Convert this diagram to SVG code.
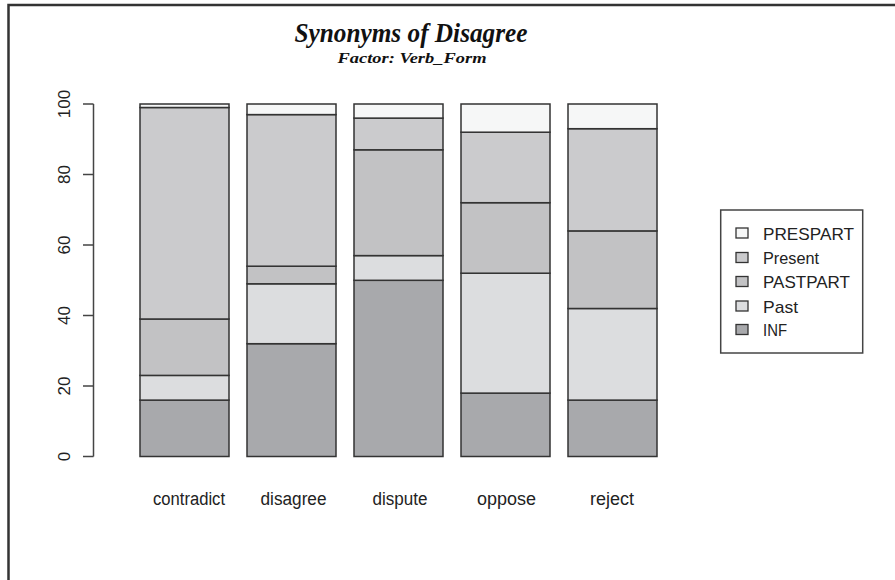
<svg xmlns="http://www.w3.org/2000/svg" width="895" height="580" viewBox="0 0 895 580">
<style>
.bar rect{stroke:#333;stroke-width:1.5}
.inf{fill:#a8a9ac}.past{fill:#dcdddf}.pastpart{fill:#c2c2c4}.present{fill:#cbcbcd}.prespart{fill:#f6f7f7}
.lbl{font-family:"Liberation Sans",Arial,sans-serif;font-size:17px;fill:#222}
.xl{font-size:18px}
.ax{stroke:#444;stroke-width:1.5;fill:none}
.leg rect.sw{stroke:#333;stroke-width:1.3}
</style>
<rect x="0" y="0" width="895" height="580" fill="#fff"/>
<path d="M8.5,580 V5 H895" fill="none" stroke="#333" stroke-width="2.5"/>
<g id="title">
<text x="411" y="42" text-anchor="middle" font-family="'Liberation Serif','Times New Roman',serif" font-weight="bold" font-style="italic" font-size="28" fill="#111" textLength="233" lengthAdjust="spacingAndGlyphs">Synonyms of Disagree</text>
<text x="412" y="63" text-anchor="middle" font-family="'Liberation Serif','Times New Roman',serif" font-weight="bold" font-style="italic" font-size="15.5" fill="#111" textLength="149" lengthAdjust="spacingAndGlyphs">Factor: Verb_Form</text>
</g>
<g id="yaxis">
<path class="ax" d="M93.5,104 V456.5 M83,104 H93.5 M83,174.5 H93.5 M83,245 H93.5 M83,315.5 H93.5 M83,386 H93.5 M83,456.5 H93.5"/>
<text class="lbl" transform="translate(70,104) rotate(-90)" text-anchor="middle">100</text>
<text class="lbl" transform="translate(70,174.5) rotate(-90)" text-anchor="middle">80</text>
<text class="lbl" transform="translate(70,245) rotate(-90)" text-anchor="middle">60</text>
<text class="lbl" transform="translate(70,315.5) rotate(-90)" text-anchor="middle">40</text>
<text class="lbl" transform="translate(70,386) rotate(-90)" text-anchor="middle">20</text>
<text class="lbl" transform="translate(70,456.5) rotate(-90)" text-anchor="middle">0</text>
</g>
<g id="bar-contradict" class="bar">
<rect class="inf" x="140" y="400.1" width="89" height="56.4"/>
<rect class="past" x="140" y="375.4" width="89" height="24.7"/>
<rect class="pastpart" x="140" y="319" width="89" height="56.4"/>
<rect class="present" x="140" y="107.5" width="89" height="211.5"/>
<rect class="prespart" x="140" y="104" width="89" height="3.5"/>
</g>
<g id="bar-disagree" class="bar">
<rect class="inf" x="247" y="343.7" width="89" height="112.8"/>
<rect class="past" x="247" y="283.8" width="89" height="59.9"/>
<rect class="pastpart" x="247" y="266.2" width="89" height="17.6"/>
<rect class="present" x="247" y="114.6" width="89" height="151.6"/>
<rect class="prespart" x="247" y="104" width="89" height="10.6"/>
</g>
<g id="bar-dispute" class="bar">
<rect class="inf" x="354" y="280.3" width="89" height="176.2"/>
<rect class="past" x="354" y="255.6" width="89" height="24.7"/>
<rect class="pastpart" x="354" y="149.8" width="89" height="105.8"/>
<rect class="present" x="354" y="118.1" width="89" height="31.7"/>
<rect class="prespart" x="354" y="104" width="89" height="14.1"/>
</g>
<g id="bar-oppose" class="bar">
<rect class="inf" x="461" y="393.1" width="89" height="63.4"/>
<rect class="past" x="461" y="273.2" width="89" height="119.9"/>
<rect class="pastpart" x="461" y="202.7" width="89" height="70.5"/>
<rect class="present" x="461" y="132.2" width="89" height="70.5"/>
<rect class="prespart" x="461" y="104" width="89" height="28.2"/>
</g>
<g id="bar-reject" class="bar">
<rect class="inf" x="568" y="400.1" width="89" height="56.4"/>
<rect class="past" x="568" y="308.5" width="89" height="91.6"/>
<rect class="pastpart" x="568" y="230.9" width="89" height="77.6"/>
<rect class="present" x="568" y="128.7" width="89" height="102.2"/>
<rect class="prespart" x="568" y="104" width="89" height="24.7"/>
</g>
<g id="xlabels">
<text class="lbl xl" x="189" y="505" text-anchor="middle" textLength="72" lengthAdjust="spacingAndGlyphs">contradict</text>
<text class="lbl xl" x="293.5" y="505" text-anchor="middle" textLength="66" lengthAdjust="spacingAndGlyphs">disagree</text>
<text class="lbl xl" x="400" y="505" text-anchor="middle" textLength="55" lengthAdjust="spacingAndGlyphs">dispute</text>
<text class="lbl xl" x="506.5" y="505" text-anchor="middle" textLength="59" lengthAdjust="spacingAndGlyphs">oppose</text>
<text class="lbl xl" x="612" y="505" text-anchor="middle" textLength="44" lengthAdjust="spacingAndGlyphs">reject</text>
</g>
<g id="legend" class="leg">
<rect x="720.7" y="210" width="142" height="143" fill="#fff" stroke="#444" stroke-width="1.5"/>
<rect class="sw prespart" x="736" y="228" width="12" height="10"/>
<rect class="sw present" x="736" y="252.5" width="12" height="10"/>
<rect class="sw pastpart" x="736" y="276.5" width="12" height="10"/>
<rect class="sw past" x="736" y="301" width="12" height="10"/>
<rect class="sw inf" x="736" y="324.5" width="12" height="10"/>
<text class="lbl" x="763" y="239.5" textLength="91" lengthAdjust="spacingAndGlyphs">PRESPART</text>
<text class="lbl" x="763" y="264" textLength="56" lengthAdjust="spacingAndGlyphs">Present</text>
<text class="lbl" x="763" y="288" textLength="87" lengthAdjust="spacingAndGlyphs">PASTPART</text>
<text class="lbl" x="763" y="312.5" textLength="35" lengthAdjust="spacingAndGlyphs">Past</text>
<text class="lbl" x="763" y="336" textLength="24" lengthAdjust="spacingAndGlyphs">INF</text>
</g>
</svg>
